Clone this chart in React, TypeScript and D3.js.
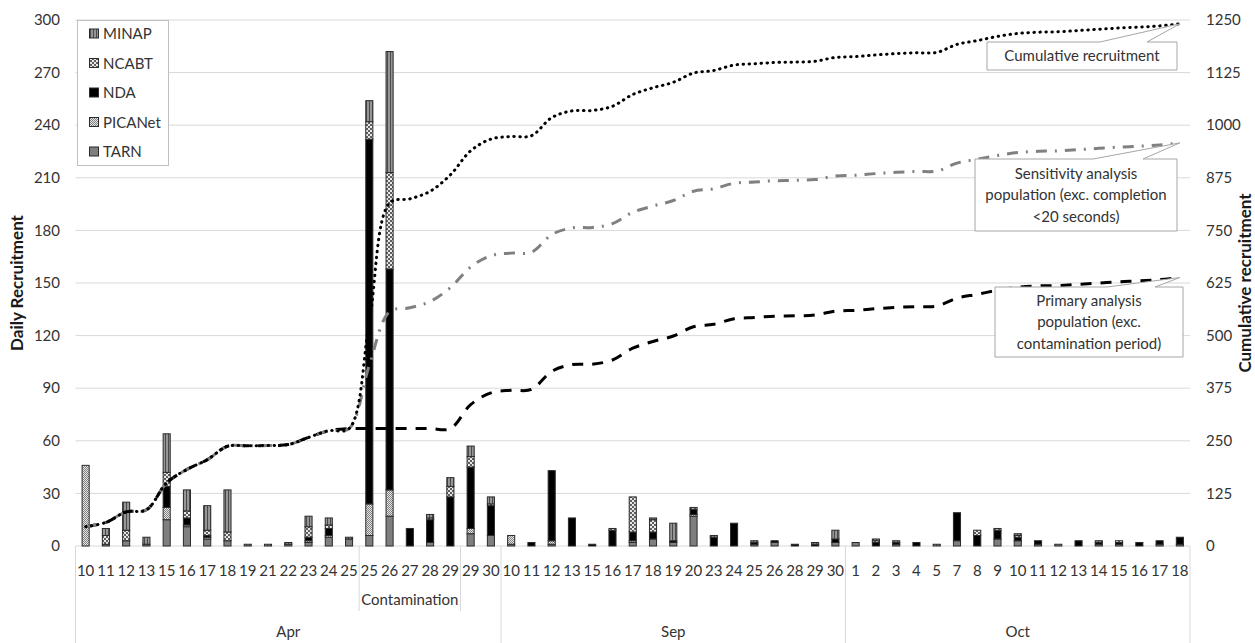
import React from "react";
import * as d3 from "d3";

// ---------- DATA ----------
const days = ["10","11","12","13","15","16","17","18","19","21","22","23","24","25","25","26","27","28","29","29","30","10","11","12","13","15","16","17","18","19","20","23","24","25","26","28","29","30","1","2","3","4","5","7","8","9","10","11","12","13","14","15","16","17","18"];
const subGroups = [
  { label: "", from: 0, to: 14 },
  { label: "Contamination", from: 14, to: 19 },
  { label: "", from: 19, to: 21 },
];
const months = [
  { label: "Apr", from: 0, to: 21 },
  { label: "Sep", from: 21, to: 38 },
  { label: "Oct", from: 38, to: 55 },
];

const TARN =    [0,1,3,1,15,11,4,3,0,0,1,2,5,4, 6,17,0,2,0, 7,6, 1,0,1,0,0,0,2,4,2,17,0,0,1,2,0,0,2, 2,0,1,0,0,3,0,4,3,1,1,0,1,1,0,1,1];
const PICANet = [46,0,0,0,7,1,1,0,0,0,0,1,1,0, 18,15,0,0,0, 3,0, 5,0,2,0,0,0,1,0,0,1,0,0,0,0,0,0,0, 0,0,0,0,0,0,0,0,0,0,0,0,0,0,0,0,0];
const NDA =     [0,0,0,0,12,4,1,0,0,0,0,2,4,0, 208,126,10,13,28, 35,17, 0,2,40,16,1,9,5,4,1,3,5,13,1,1,1,1,2, 0,2,1,2,0,16,6,5,2,2,0,3,1,1,2,2,4];
const NCABT =   [0,5,6,0,8,4,3,5,0,0,0,6,2,0, 10,55,0,1,6, 6,1, 0,0,0,0,0,1,20,7,0,1,0,0,0,0,0,0,0, 0,1,0,0,0,0,3,1,1,0,0,0,0,1,0,0,0];
const MINAP =   [0,4,16,4,22,12,14,24,1,1,1,6,4,1, 12,69,0,2,5, 6,4, 0,0,0,0,0,0,0,1,10,0,1,0,1,0,0,1,5, 0,1,1,0,1,0,0,0,1,0,0,0,1,0,0,0,0];

const cumulative = [46,56,81,86,150,182,205,237,238,239,241,258,274,279,533,815,825,843,882,939,967,973,975,1018,1034,1035,1045,1073,1089,1102,1124,1130,1143,1146,1149,1150,1152,1161,1163,1167,1170,1172,1173,1192,1201,1211,1218,1221,1222,1225,1228,1231,1233,1236,1241];
const sensitivity = [46,56,81,86,150,182,205,237,238,239,241,258,274,279,430,557,566,581,614,663,690,696,698,740,756,757,766,793,808,821,843,849,862,865,868,869,871,879,881,885,888,890,891,910,919,928,935,938,939,942,945,948,950,953,958];
const primary = [46,56,81,86,150,182,205,237,238,239,241,258,274,279,279,279,279,279,279,336,364,370,372,415,431,432,442,470,486,499,521,527,540,543,546,547,549,558,560,564,567,569,570,589,598,608,615,618,619,622,625,628,630,633,638];

const leftTicks = [0,30,60,90,120,150,180,210,240,270,300];
const rightTicks = [0,125,250,375,500,625,750,875,1000,1125,1250];

const stackKeys = ["TARN","PICANet","NDA","NCABT","MINAP"];
const legendKeys = ["MINAP","NCABT","NDA","PICANet","TARN"];
const seriesValues: Record<string, number[]> = { TARN, PICANet, NDA, NCABT, MINAP };

// ---------- LAYOUT ----------
const W = 1255, H = 643;
const X0 = 75.5, X1 = 1190, YT = 20, YB = 546;
const FONT = "Lato, 'Liberation Sans', sans-serif";
const TXT = "#333333";
const FS = 15;

const fills: Record<string, string> = {
  TARN: "#7f7f7f",
  PICANet: "url(#p-picanet)",
  NDA: "#000000",
  NCABT: "url(#p-ncabt)",
  MINAP: "url(#p-minap)",
};

export default function App() {
  const idx = days.map((_, i) => i);
  const x = d3.scaleBand<number>().domain(idx).range([X0, X1]).paddingInner(0.65).paddingOuter(0.325);
  const cx = (i: number) => (x(i) as number) + x.bandwidth() / 2;
  const edge = (i: number) => X0 + (X1 - X0) * (i / days.length);
  const yL = d3.scaleLinear().domain([0, 300]).range([YB, YT]);
  const yR = d3.scaleLinear().domain([0, 1250]).range([YB, YT]);

  const rows = idx.map((i) => {
    const r: any = { i };
    stackKeys.forEach((k) => (r[k] = seriesValues[k][i]));
    return r;
  });
  const stacked = d3.stack<any>().keys(stackKeys)(rows);

  const line = d3
    .line<number>()
    .x((_, i) => cx(i))
    .y((d) => yR(d))
    .curve(d3.curveCatmullRom.alpha(0.5));

  const lastI = days.length - 1;
  const callouts = [
    { x: 987, y: 42, w: 190, h: 28, b1: 1100, b2: 1147, tipY: yR(cumulative[lastI]), lines: ["Cumulative recruitment"] },
    { x: 975, y: 159, w: 202, h: 72, b1: 1093, b2: 1143, tipY: yR(sensitivity[lastI]), lines: ["Sensitivity analysis", "population (exc. completion", "<20 seconds)"] },
    { x: 995, y: 287, w: 188, h: 70, b1: 1107, b2: 1155, tipY: yR(primary[lastI]), lines: ["Primary analysis", "population (exc.", "contamination period)"] },
  ];

  return (
    <svg width={W} height={H} style={{ position: "absolute", left: 0, top: 0, background: "#fff" }} fontFamily={FONT}>
      <style>{`body{margin:0}`}</style>
      <defs>
        <pattern id="p-minap" width="3" height="3" patternUnits="userSpaceOnUse">
          <rect width="3" height="3" fill="#969696" />
          <rect width="1" height="3" fill="#4a4a4a" />
        </pattern>
        <pattern id="p-ncabt" width="4" height="4" patternUnits="userSpaceOnUse">
          <rect width="4" height="4" fill="#5e5e5e" />
          <rect x="0" y="0" width="2" height="2" fill="#e8e8e8" />
          <rect x="2" y="2" width="2" height="2" fill="#e8e8e8" />
        </pattern>
        <pattern id="p-picanet" width="2" height="2" patternUnits="userSpaceOnUse">
          <rect width="2" height="2" fill="#e6e6e6" />
          <rect x="0" y="0" width="1" height="1" fill="#808080" />
          <rect x="1" y="1" width="1" height="1" fill="#808080" />
        </pattern>
      </defs>

      {/* gridlines */}
      {leftTicks.filter((t) => t > 0).map((t) => (
        <line key={t} x1={X0} x2={X1} y1={yL(t)} y2={yL(t)} stroke="#d9d9d9" strokeWidth={1} />
      ))}
      {/* x axis line */}
      <line x1={X0} x2={X1} y1={YB} y2={YB} stroke="#d9d9d9" strokeWidth={1} />

      {/* left ticks */}
      {leftTicks.map((t) => (
        <text key={t} x={60} y={yL(t)} dy="0.35em" textAnchor="end" fontSize={FS} fill={TXT}>{t}</text>
      ))}
      {/* right ticks */}
      {rightTicks.map((t) => (
        <text key={t} x={1206} y={yR(t)} dy="0.35em" textAnchor="start" fontSize={FS} fill={TXT}>{t}</text>
      ))}

      {/* axis titles */}
      <text transform={`translate(23,${(YT + YB) / 2}) rotate(-90)`} textAnchor="middle" fontSize={17} fontWeight="bold" fill="#1a1a1a">Daily Recruitment</text>
      <text transform={`translate(1251,${(YT + YB) / 2}) rotate(-90)`} textAnchor="middle" fontSize={17} fontWeight="bold" fill="#1a1a1a">Cumulative recruitment</text>

      {/* bars */}
      {stacked.map((s) => (
        <g key={s.key}>
          {s.map((d, i) =>
            d[1] - d[0] > 0 ? (
              <rect
                key={i}
                x={x(i)}
                width={x.bandwidth()}
                y={yL(d[1])}
                height={yL(d[0]) - yL(d[1])}
                fill={fills[s.key]}
                stroke="#2b2b2b"
                strokeWidth={1}
              />
            ) : null
          )}
        </g>
      ))}

      {/* lines */}
      <path d={line(primary) || ""} fill="none" stroke="#000" strokeWidth={3} strokeDasharray="11 9" />
      <path d={line(sensitivity) || ""} fill="none" stroke="#808080" strokeWidth={3} strokeDasharray="11 8 2 8" />
      <path d={line(cumulative) || ""} fill="none" stroke="#000" strokeWidth={3} strokeDasharray="0.5 5.5" strokeLinecap="round" />

      {/* category axis labels */}
      {days.map((d, i) => (
        <text key={i} x={cx(i)} y={571} dy="0.35em" textAnchor="middle" fontSize={FS} fill={TXT}>{d}</text>
      ))}
      {/* level 2 separators and labels */}
      {subGroups.map((g, k) => (
        <g key={k}>
          {g.from > 0 && <line x1={edge(g.from)} x2={edge(g.from)} y1={YB} y2={611} stroke="#d9d9d9" />}
          {g.label && (
            <text x={(edge(g.from) + edge(g.to)) / 2} y={600} dy="0.35em" textAnchor="middle" fontSize={FS} fill={TXT}>{g.label}</text>
          )}
        </g>
      ))}
      {/* months */}
      {months.map((m, k) => (
        <g key={k}>
          <line x1={edge(m.from)} x2={edge(m.from)} y1={YB} y2={H} stroke="#d9d9d9" />
          <text x={(edge(m.from) + edge(m.to)) / 2} y={632} dy="0.35em" textAnchor="middle" fontSize={FS} fill={TXT}>{m.label}</text>
        </g>
      ))}
      <line x1={edge(days.length)} x2={edge(days.length)} y1={YB} y2={H} stroke="#d9d9d9" />

      {/* legend */}
      <rect x={77.5} y={20.5} width={91} height={145} fill="#fff" stroke="#bfbfbf" />
      {legendKeys.map((k, j) => (
        <g key={k}>
          <rect x={89.5} y={34 + j * 29.5 - 5} width={9} height={9} fill={fills[k]} stroke="#2b2b2b" strokeWidth={1} />
          <text x={103} y={34 + j * 29.5} dy="0.35em" fontSize={FS} fill={TXT}>{k}</text>
        </g>
      ))}

      {/* callouts */}
      {callouts.map((c, k) => {
        const tipX = cx(lastI);
        const p = `M${c.x},${c.y} L${c.b1},${c.y} L${tipX},${c.tipY} L${c.b2},${c.y} L${c.x + c.w},${c.y} L${c.x + c.w},${c.y + c.h} L${c.x},${c.y + c.h} Z`;
        const n = c.lines.length;
        const lh = 21.5;
        const midY = c.y + c.h / 2;
        return (
          <g key={k}>
            <path d={p} fill="#fff" stroke="#a6a6a6" strokeWidth={1} />
            {c.lines.map((t, j) => (
              <text key={j} x={c.x + c.w / 2} y={midY + (j - (n - 1) / 2) * lh} dy="0.35em" textAnchor="middle" fontSize={FS} fill={TXT}>{t}</text>
            ))}
          </g>
        );
      })}
    </svg>
  );
}
